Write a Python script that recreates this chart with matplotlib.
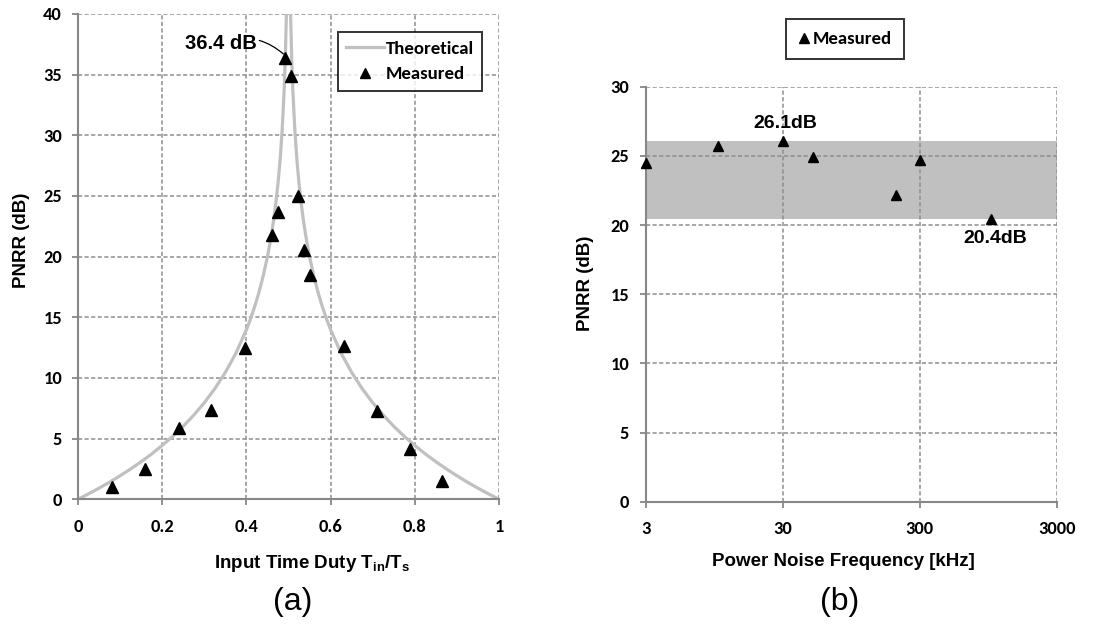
import matplotlib
matplotlib.use("Agg")
import matplotlib.pyplot as plt
from matplotlib.lines import Line2D

# ---- data -------------------------------------------------------------
# (a) theoretical PNRR vs. input time duty
duty_theory = [0.0, 0.025, 0.05, 0.075, 0.10, 0.125, 0.15, 0.175, 0.20, 0.225,
               0.25, 0.275, 0.30, 0.325, 0.35, 0.375, 0.40, 0.41, 0.42, 0.43,
               0.44, 0.45, 0.455, 0.46, 0.465, 0.47, 0.475, 0.48, 0.485, 0.49,
               0.4925, 0.495, 0.4975,
               0.5025, 0.505, 0.5075, 0.51, 0.515, 0.52, 0.525, 0.53, 0.535,
               0.54, 0.545, 0.55, 0.56, 0.57, 0.58, 0.59, 0.60, 0.625, 0.65,
               0.675, 0.70, 0.725, 0.75, 0.775, 0.80, 0.825, 0.85, 0.875, 0.90,
               0.925, 0.95, 0.975, 1.0]
pnrr_theory = [0.0, 0.45, 0.92, 1.41, 1.94, 2.50, 3.10, 3.74, 4.44, 5.19,
               6.02, 6.94, 7.96, 9.12, 10.46, 12.04, 13.98, 14.89, 15.92, 17.08,
               18.42, 20.00, 20.92, 21.94, 23.10, 24.44, 26.02, 27.96, 30.46, 33.98,
               36.48, 40.00, 46.02,
               46.02, 40.00, 36.48, 33.98, 30.46, 27.96, 26.02, 24.44, 23.10,
               21.94, 20.92, 20.00, 18.42, 17.08, 15.92, 14.89, 13.98, 12.04, 10.46,
               9.12, 7.96, 6.94, 6.02, 5.19, 4.44, 3.74, 3.10, 2.50, 1.94,
               1.41, 0.92, 0.45, 0.0]

# (a) measured PNRR vs. input time duty
duty_meas = [0.08, 0.16, 0.24, 0.317, 0.397, 0.46, 0.474, 0.492, 0.507,
             0.522, 0.536, 0.552, 0.631, 0.71, 0.788, 0.865]
pnrr_meas = [1.0, 2.5, 5.9, 7.35, 12.45, 21.75, 23.7, 36.4, 34.9,
             25.0, 20.55, 18.45, 12.6, 7.3, 4.15, 1.5]
peak_label = "36.4 dB"

# (b) measured PNRR vs. power noise frequency
freq_khz = [3, 10, 30, 50, 200, 300, 1000]
pnrr_freq = [24.5, 25.7, 26.1, 24.9, 22.2, 24.7, 20.4]
band_low, band_high = 20.4, 26.1
freq_ticks = [3, 30, 300, 3000]
freq_ticklabels = ["3", "30", "300", "3000"]

# ---- style ------------------------------------------------------------
plt.rcParams["font.family"] = ["Carlito", "DejaVu Sans"]
plt.rcParams["font.weight"] = "bold"
plt.rcParams["font.size"] = 13.3
plt.rcParams["mathtext.fontset"] = "custom"
plt.rcParams["mathtext.rm"] = "Liberation Sans:bold"
plt.rcParams["mathtext.bf"] = "Liberation Sans:bold"

AXIS_GRAY = "#878787"
GRID_GRAY = "#8e8e8e"
BAND_GRAY = "#c0c0c0"
LABEL_FONT = dict(family="Liberation Sans", weight="bold", size=13.5)
LEGEND_FONT = dict(family="Carlito", weight="bold", size=13.5)

W, H = 1117, 626
fig = plt.figure(figsize=(W / 100, H / 100), dpi=100)


def px_axes(x0, y0, x1, y1):
    """Axes from pixel box (left, top, right, bottom)."""
    return fig.add_axes([x0 / W, 1 - y1 / H, (x1 - x0) / W, (y1 - y0) / H])


def style_axes(ax, xpad, ypad):
    ax.set_axisbelow(True)
    ax.grid(True, which="major", color=GRID_GRAY, linewidth=1.1,
            linestyle=(0, (2.7, 1.6)))
    for side in ("top", "right"):
        ax.spines[side].set_visible(False)
    for side in ("left", "bottom"):
        ax.spines[side].set_color(AXIS_GRAY)
        ax.spines[side].set_linewidth(1.5)
        ax.spines[side].set_zorder(3)
    ax.tick_params(axis="both", which="major", direction="out", length=4.5,
                   width=1.3, color=AXIS_GRAY, labelsize=13.3)
    ax.tick_params(axis="x", pad=xpad)
    ax.tick_params(axis="y", pad=ypad)
    ax.tick_params(which="minor", length=0)


# ---- (a) --------------------------------------------------------------
ax1 = px_axes(78, 14, 499, 499.3)
ax1.plot(duty_theory, pnrr_theory, color=BAND_GRAY, linewidth=2.3,
         solid_joinstyle="round", label="Theoretical", zorder=2)
ax1.plot(duty_meas, pnrr_meas, linestyle="none", marker="^", markersize=9,
         color="black", label="Measured", zorder=4)
ax1.set_xlim(0, 1)
ax1.set_ylim(0, 40)
ax1.set_xticks([0, 0.2, 0.4, 0.6, 0.8, 1.0])
ax1.set_xticklabels(["0", "0.2", "0.4", "0.6", "0.8", "1"])
ax1.set_yticks(range(0, 41, 5))
style_axes(ax1, xpad=9.5, ypad=7)

ipk = pnrr_meas.index(max(pnrr_meas))
ax1.annotate(peak_label, xy=(duty_meas[ipk] - 0.004, pnrr_meas[ipk] + 0.3),
             xytext=(0.424, 37.6), ha="right", va="center",
             fontfamily="Liberation Sans", fontweight="bold", fontsize=14.5,
             arrowprops=dict(arrowstyle="-", color="black", linewidth=0.9,
                             connectionstyle="arc3,rad=-0.3",
                             shrinkA=0, shrinkB=0))

leg1 = ax1.legend(loc="upper right", bbox_to_anchor=(482 / W, 1 - 32 / H),
                  bbox_transform=fig.transFigure, frameon=True, fancybox=False,
                  edgecolor="black", handlelength=2.0, handletextpad=0.1,
                  borderpad=0.45, labelspacing=0.5, markerscale=0.75,
                  borderaxespad=0, prop=LEGEND_FONT)
leg1.get_frame().set_linewidth(1.4)

fig.text(312 / W, 1 - 563 / H, r"Input Time Duty T$_\mathregular{in}$/T$_\mathregular{s}$",
         ha="center", va="center", **LABEL_FONT)
fig.text(22 / W, 1 - 240 / H, "PNRR (dB)", rotation=90, ha="center", va="center",
         **LABEL_FONT)
fig.text(293 / W, 1 - 602 / H, "(a)", ha="center", va="center",
         family="Liberation Sans", weight="normal", size=23)

# ---- (b) --------------------------------------------------------------
ax2 = px_axes(646, 86.7, 1056.7, 501.7)
ax2.set_xscale("log")
ax2.axhspan(band_low, band_high, color=BAND_GRAY, linewidth=0, zorder=0.5)
ax2.plot(freq_khz, pnrr_freq, linestyle="none", marker="^", markersize=7,
         color="black", label="Measured", zorder=4, clip_on=False)
ax2.set_xlim(3, 3000)
ax2.set_ylim(0, 30)
ax2.set_xticks(freq_ticks)
ax2.set_xticklabels(freq_ticklabels)
ax2.set_yticks(range(0, 31, 5))
style_axes(ax2, xpad=9.5, ypad=7.5)

imax = pnrr_freq.index(max(pnrr_freq))
imin = pnrr_freq.index(min(pnrr_freq))
ann_font = dict(fontfamily="Liberation Sans", fontweight="bold", fontsize=14)
ax2.annotate(f"{pnrr_freq[imax]:.1f}dB", xy=(freq_khz[imax], pnrr_freq[imax]),
             xytext=(1.7, 12.7), textcoords="offset points",
             ha="center", va="center", **ann_font)
ax2.annotate(f"{pnrr_freq[imin]:.1f}dB", xy=(freq_khz[imin], pnrr_freq[imin]),
             xytext=(2.7, -13.9), textcoords="offset points",
             ha="center", va="center", **ann_font)

leg_handle = Line2D([], [], linestyle="none", marker="^", markersize=7,
                    color="black")
leg2 = fig.legend([leg_handle], ["Measured"], loc="center",
                  bbox_to_anchor=(845 / W, 1 - 39 / H), frameon=True,
                  fancybox=False, edgecolor="black", handlelength=0.6,
                  handletextpad=0.15, borderpad=0.65, borderaxespad=0,
                  prop=LEGEND_FONT)
leg2.get_frame().set_linewidth(1.4)

fig.text(843 / W, 1 - 562 / H, "Power Noise Frequency [kHz]", ha="center",
         va="center", **LABEL_FONT)
fig.text(586 / W, 1 - 283 / H, "PNRR (dB)", rotation=90, ha="center", va="center",
         **LABEL_FONT)
fig.text(840 / W, 1 - 602 / H, "(b)", ha="center", va="center",
         family="Liberation Sans", weight="normal", size=23)

fig.savefig("out.png", dpi=100)
